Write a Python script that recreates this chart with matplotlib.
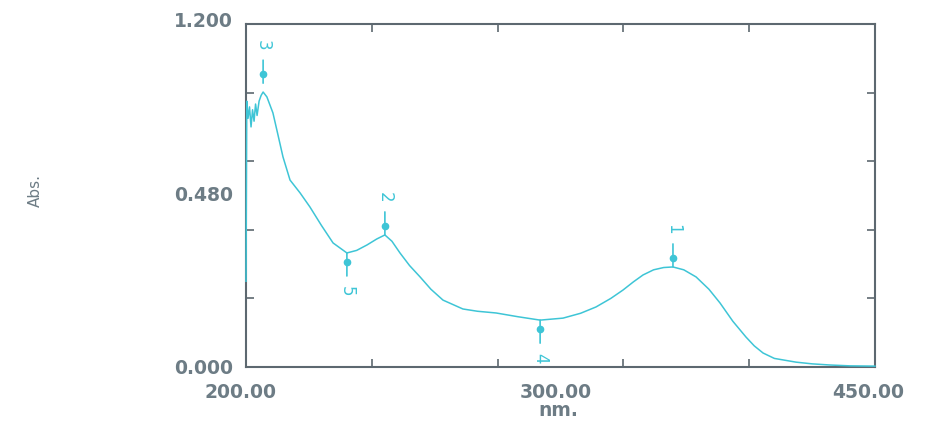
import matplotlib
matplotlib.use("Agg")
import matplotlib.pyplot as plt
import matplotlib.transforms as mtransforms

# Spectrum data (wavelength nm, absorbance)
wavelength = [200.0, 200.3, 200.8, 201.4, 202.0, 202.6, 203.2, 203.8, 204.4, 205.2, 206.0,
              206.8, 208.3, 210.7, 212.5, 214.7, 217.5, 221.5, 225.4, 230.0, 234.6, 240.1,
              244.0, 248.1, 252.0, 255.2, 258.0, 261.2, 265.0, 269.2, 273.5, 278.3, 286.2,
              292.0, 299.4, 308.0, 316.9, 326.0, 333.0, 339.1, 345.0, 349.8, 354.0, 357.8,
              362.0, 366.0, 369.7, 374.0, 378.9, 384.0, 388.4, 393.5, 398.7, 402.0, 405.5,
              410.0, 418.6, 425.0, 432.1, 440.0, 450.0]
absorbance = [0.30, 0.93, 0.87, 0.91, 0.84, 0.90, 0.86, 0.92, 0.88, 0.93, 0.95,
              0.962, 0.945, 0.889, 0.820, 0.735, 0.654, 0.609, 0.560, 0.495, 0.434, 0.399,
              0.408, 0.427, 0.448, 0.462, 0.440, 0.399, 0.355, 0.315, 0.272, 0.234, 0.203,
              0.195, 0.189, 0.176, 0.164, 0.171, 0.188, 0.210, 0.240, 0.269, 0.298, 0.322,
              0.340, 0.348, 0.350, 0.340, 0.315, 0.272, 0.224, 0.160, 0.105, 0.074, 0.049,
              0.030, 0.017, 0.011, 0.007, 0.004, 0.003]

# Peak / valley picks
pick_labels = ["1", "2", "3", "4", "5"]
pick_nm = [369.7, 255.2, 206.8, 316.9, 240.1]
pick_abs = [0.350, 0.462, 0.993, 0.164, 0.399]
pick_kind = ["peak", "peak", "peak", "valley", "valley"]

# Axis labels text
y_label_texts = ["1.200", "0.480", "0.000"]
x_label_texts = ["200.00", "300.00", "450.00"]

CURVE = "#3ec5d6"
FRAME = "#5d6870"
TEXT = "#6d7c85"

fig = plt.figure(figsize=(9.26, 4.21), dpi=100)
ax = fig.add_axes([246/926, 1 - 367/421, 629/926, 343/421])
ax.set_xlim(200, 450)
ax.set_ylim(0, 1.2)

ax.plot(wavelength, absorbance, color=CURVE, lw=1.1, zorder=3, clip_on=False)

for lab, x, y, kind in zip(pick_labels, pick_nm, pick_abs, pick_kind):
    s = 1 if kind == "peak" else -1
    # vertical marker line
    ax.annotate("", xy=(x, y), xycoords='data',
                xytext=(0, s * 23), textcoords='offset pixels',
                arrowprops=dict(arrowstyle='-', color=CURVE, lw=1.2,
                                shrinkA=0, shrinkB=0))
    dot_tr = mtransforms.offset_copy(ax.transData, fig=fig, x=0, y=s * 9, units='dots')
    ax.plot([x], [y], 'o', ms=4.5, color=CURVE, transform=dot_tr)
    ax.annotate(lab, xy=(x, y), xycoords='data', xytext=(0, s * 38),
                textcoords='offset pixels', ha='center', va='center',
                rotation=-90, color=CURVE, fontsize=12)

ax.set_xticks([250, 300, 350, 400])
ax.set_yticks([0.24, 0.48, 0.72, 0.96])
ax.tick_params(direction='in', length=6, width=1.2, color=FRAME,
               top=True, right=True, labelbottom=False, labelleft=False)
for sp in ax.spines.values():
    sp.set_color(FRAME)
    sp.set_linewidth(1.5)

fs = 13.5
ypos = [1.006, 0.501, -0.003]
for t, yy in zip(y_label_texts, ypos):
    ax.text(-0.021, yy, t, transform=ax.transAxes, ha='right', va='center',
            fontsize=fs, fontweight='bold', color=TEXT)
xpos = [-0.008, 0.493, 0.989]
for t, xx in zip(x_label_texts, xpos):
    ax.text(xx, -0.073, t, transform=ax.transAxes, ha='center', va='center',
            fontsize=fs, fontweight='bold', color=TEXT)
ax.text(0.496, -0.128, "nm.", transform=ax.transAxes, ha='center', va='center',
        fontsize=fs, fontweight='bold', color=TEXT)
ax.text(-0.335, 0.516, "Abs.", transform=ax.transAxes, ha='center', va='center',
        rotation=90, fontsize=11, color=TEXT)

fig.savefig("out.png", dpi=100)
